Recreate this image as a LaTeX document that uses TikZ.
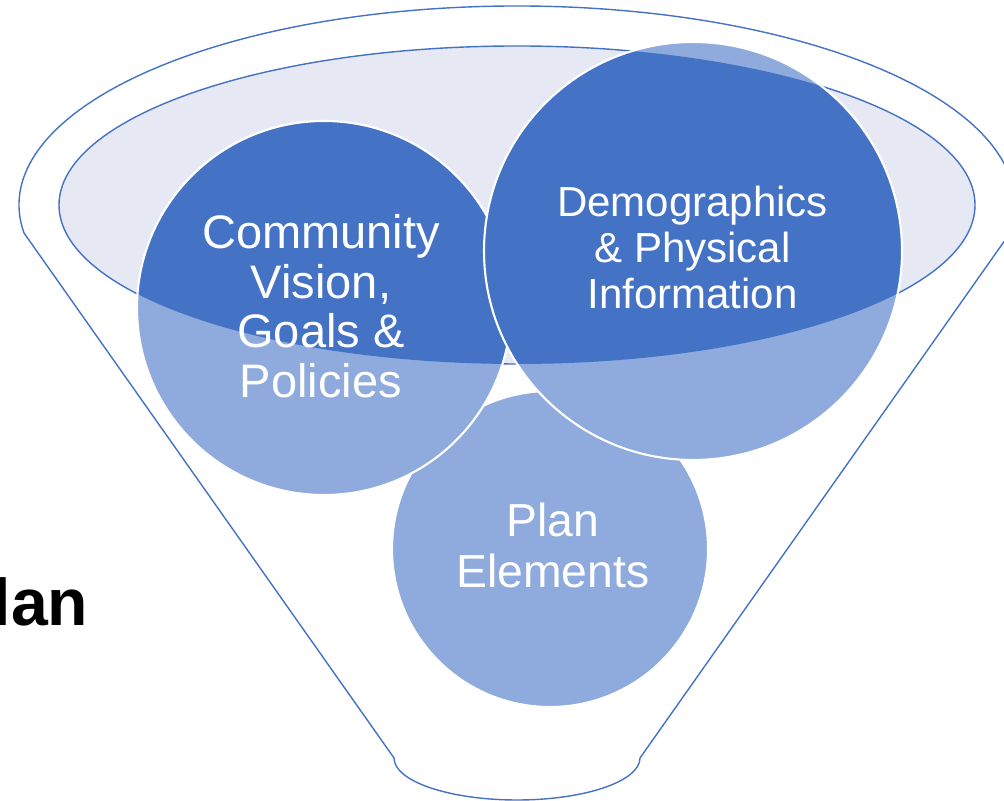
\documentclass[tikz,border=0pt]{standalone}
\usepackage{fontspec}
\setmainfont{Liberation Sans}
\definecolor{funnelblue}{HTML}{4472C4}
\definecolor{funnellight}{HTML}{8FAADC}
\definecolor{funnelrim}{HTML}{E6E9F4}
\begin{document}
\begin{tikzpicture}[x=0.01cm, y=0.01cm,
		outline/.style={draw=funnelblue, line width=0.4pt},
		bubble/.style={fill=funnellight},
		bubbleedge/.style={draw=white, line width=0.6pt},
		bubbletext/.style={text=white, align=center, inner sep=0pt}]
		\useasboundingbox (0,0) rectangle (1004,801);
		% funnel body and rim
		\draw[outline] (24,568) arc[start angle=188.09, end angle=-8.09, x radius=498, y radius=199]
			-- (640,43) arc[start angle=0, end angle=-180, x radius=123, y radius=42] -- cycle;
		\fill[funnelrim] (517,596) ellipse[x radius=458, y radius=159];
		\draw[outline] (517,596) ellipse[x radius=458, y radius=159];
		%
		\fill[bubble] (550,252) circle[radius=158];
		\draw[bubbleedge] (550,252) circle[radius=158];
		%
		\fill[bubble] (324,493) circle[radius=187];
		\begin{scope}
			\clip (517,596) ellipse[x radius=458, y radius=159];
			\fill[funnelblue] (324,493) circle[radius=187];
		\end{scope}
		\draw[bubbleedge] (324,493) circle[radius=187];
		%
		\fill[bubble] (693,550) circle[radius=209];
		\begin{scope}
			\clip (517,596) ellipse[x radius=458, y radius=159];
			\fill[funnelblue] (693,550) circle[radius=209];
		\end{scope}
		\draw[bubbleedge] (693,550) circle[radius=209];
		%
		\node (vision)[bubbletext, font=\fontsize{13.37}{14.08}\selectfont] at (321,488)
			{\strut Community\\Vision,\\Goals \&\\\strut Policies};
		\node (demo)[bubbletext, font=\fontsize{11.95}{12.95}\selectfont] at (692.5,547.6)
			{\strut Demographics\\\& Physical\\\strut Information};
		\node (elements)[bubbletext, font=\fontsize{13.17}{13.37}\selectfont] at (553,249)
			{\strut Plan\\\strut Elements};
		\node (title)[anchor=base east, inner sep=0pt, font=\fontsize{18.8}{22}\selectfont\bfseries] at (89,175) {lan};
	\end{tikzpicture}
\end{document}
